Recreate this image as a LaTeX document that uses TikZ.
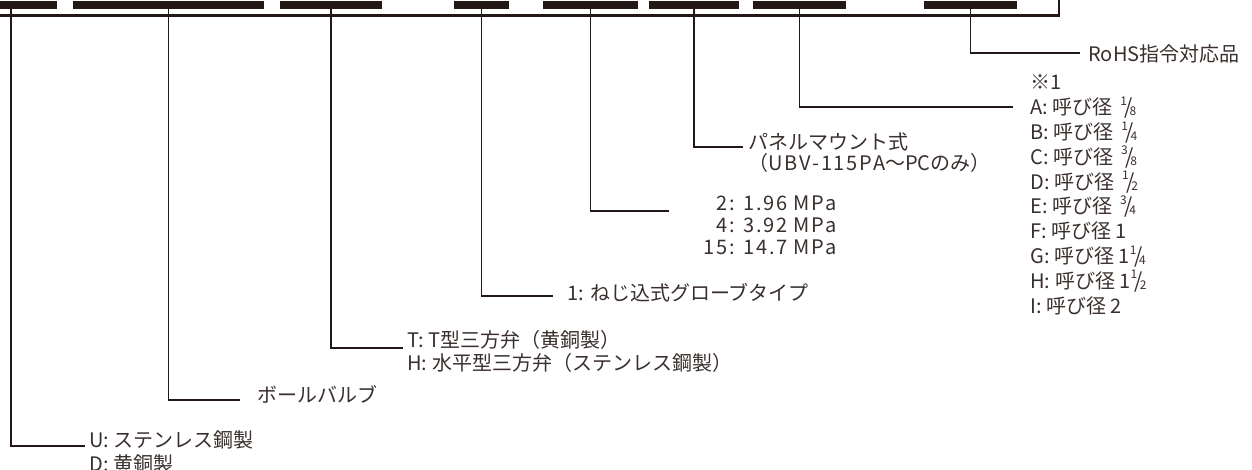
\documentclass[tikz,border=0pt]{standalone}
\usepackage{fontspec}
\setmainfont{Noto Sans CJK JP}
\definecolor{ink}{HTML}{231815}
\newcommand\fr[2]{\raisebox{.85ex}{\fontsize{6}{6}\selectfont#1}\kern-.12em{\fontsize{10.5}{10}\selectfont/}\kern-.16em\raisebox{-.1ex}{\fontsize{6}{6}\selectfont#2}}
\newcommand\wide[1]{{\addfontfeatures{LetterSpace=9}#1}}

\begin{document}
\begin{tikzpicture}[x=0.5pt,y=-0.5pt,
		bar/.style={fill=ink,inner sep=0pt,minimum height=4pt},
		lead/.style={draw=ink,line width=0.6pt},
		lbl/.style={text=ink!90,inner sep=0pt,align=left,font=\fontsize{10}{#1}\selectfont},
		lbl/.default=12pt]
	\useasboundingbox (0,0) rectangle (1252,470);
	\foreach \n/\l/\r in {1/-35/57,2/73/264,3/280/382,4/454/509,5/543/638,6/649/739,7/753/846,8/924/1017}
		\node[bar,minimum width={(\r-(\l))*0.5pt}] (b\n) at ({(\l+\r)/2},5) {};
	\draw[ink,line width=1.2pt] (-10,15.5) -| (1059,-10);
	\coordinate (e1) at (85,446);
	\coordinate (e2) at (240,400);
	\coordinate (e3) at (403,348);
	\coordinate (e4) at (553,296);
	\coordinate (e5) at (669,211);
	\coordinate (e6) at (743,147);
	\coordinate (e7) at (1013,107);
	\coordinate (e8) at (1080,53);
	\node[lbl=12pt,anchor=base west] (mat) at (89,471) {U: ステンレス鋼製\\D: 黄銅製};
	\node[lbl,anchor=base west] (ball) at (257,402) {ボールバルブ};
	\node[lbl=11.5pt,anchor=base west] (port) at (407,370) {T: T型三方弁（黄銅製）\\H: 水平型三方弁（ステンレス鋼製）};
	\node[lbl,anchor=base west] (globe) at (567,300) {1: ねじ込式グローブタイプ};
	\node[lbl=11pt,anchor=base east,align=right] (press) at (837,255) {\wide{2: 1.96 MPa}\\\wide{4: 3.92 MPa}\\\wide{15: 14.7 MPa}};
	\node[lbl=10.5pt,anchor=base west] (panel) at (748,171) {パネルマウント式\\（\wide{UBV-115PA}〜PCのみ）};
	\node[lbl=12.4pt,anchor=base west] (size) at (1030,313) {※1\\A: 呼び径 \,\fr18\\B: 呼び径 \,\fr14\\C: 呼び径 \,\fr38\\D: 呼び径 \,\fr12\\E: 呼び径 \,\fr34\\F: 呼び径 1\\G: 呼び径 1\fr14\\H: 呼び径 1\fr12\\I: 呼び径 2};
	\node[lbl,anchor=base west] (rohs) at (1088,62) {RoHS指令対応品};
	\foreach \i in {1,...,8}
		\draw[lead] (b\i.south) |- (e\i);
\end{tikzpicture}
\end{document}
